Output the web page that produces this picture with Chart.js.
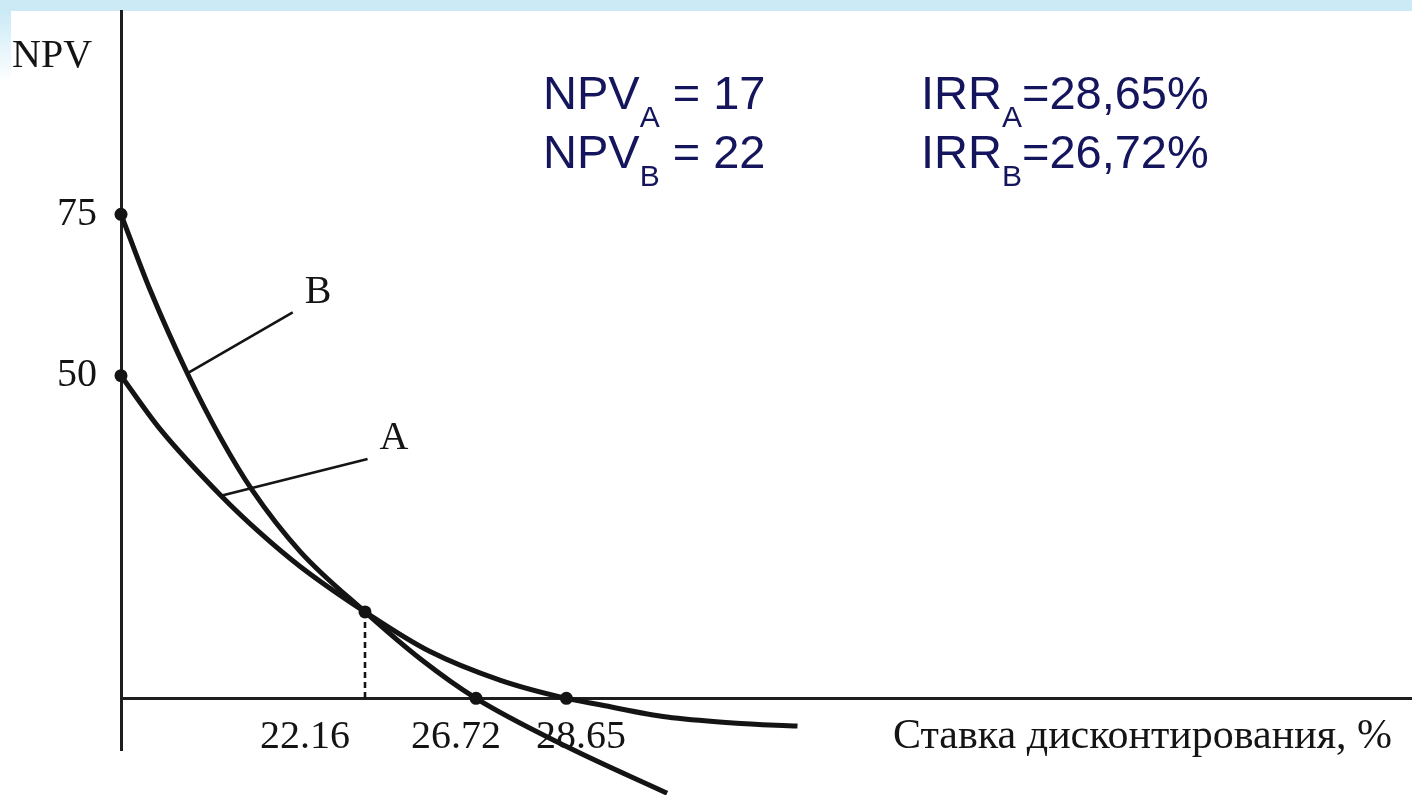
<!DOCTYPE html>
<html>
<head>
<meta charset="utf-8">
<script src="https://cdn.jsdelivr.net/npm/chart.js@4/dist/chart.umd.min.js"></script>
<style>
  html, body { margin: 0; padding: 0; background: #fff; }
  #page { position: relative; width: 1412px; height: 795px; overflow: hidden; }
  #bandTop { position: absolute; left: 0; top: 0; width: 1412px; height: 11px; background: #cbeaf6; }
  #bandLeft { position: absolute; left: 0; top: 11px; width: 11px; height: 72px;
              background: linear-gradient(#cbeaf6, #ffffff); }
  #npvChart { position: absolute; left: 0; top: 0; }
</style>
</head>
<body>
<div id="page">
  <div id="bandTop"></div>
  <div id="bandLeft"></div>
  <canvas id="npvChart" width="1412" height="795"></canvas>
</div>
<script>
    // The original drawing is a sketch, not to scale: the x axis runs 0..100 in
    // "drawing units" and the rate labels are written where the sketch puts them.
    var rateLabels = ['22.16', '26.72', '28.65'];
    var rateLabelAt = [14.25, 25.95, 35.63];
    var npvTicks = [50, 75];

    // project A: NPV 50 at zero rate, IRR 28.65 %
    var aX   = [0, 3.0, 7.75, 10.8, 13.9, 18.9, 23.9, 29.4, 34.5, 37.1, 42.3, 47.4, 52.4];
    var aNpv = [50, 41.8, 31.4, 25.6, 20.4, 13.4, 7.3, 2.8, 0, -1.0, -2.9, -3.8, -4.3];
    // project B: NPV 75 at zero rate, IRR 26.72 %
    var bX   = [0, 2.25, 5.2, 7.7, 10.15, 13.9, 18.9, 23.2, 27.5, 34.55, 42.3];
    var bNpv = [75, 63.3, 50.1, 40.4, 32.3, 22.7, 13.4, 6.1, 0, -7.5, -14.7];

    // marked points: the two starts, the crossing (Fisher point) and the two IRRs
    var markX   = [0, 0, 18.9, 27.5, 34.5];
    var markNpv = [50, 75, 13.4, 0, 0];

    var leaderA = [[7.75, 31.4], [19.1, 37.1]];
    var leaderB = [[5.1, 50.3], [13.3, 59.8]];

    var npvA = 17, npvB = 22;
    var irrA = '28,65%', irrB = '26,72%';
    var xTitle = 'Ставка дисконтирования, %';

    function pts(xs, ys) {
        return xs.map(function (v, i) { return { x: v, y: ys[i] }; });
    }
    function pairs(arr) {
        return arr.map(function (p) { return { x: p[0], y: p[1] }; });
    }

    var ink = '#141414';
    var blue = '#15155e';

    function drawSub(ctx, x, y, main, sub, rest) {
        ctx.font = '47px "Liberation Sans"';
        ctx.fillText(main, x, y);
        x += ctx.measureText(main).width;
        ctx.font = '30px "Liberation Sans"';
        ctx.fillText(sub, x, y + 18);
        x += ctx.measureText(sub).width;
        ctx.font = '47px "Liberation Sans"';
        ctx.fillText(rest, x, y);
    }

    var textPlugin = {
        id: 'sketchText',
        afterDraw: function (chart) {
            var ctx = chart.ctx, xs = chart.scales.x, ys = chart.scales.y;
            ctx.save();
            ctx.fillStyle = ink;
            ctx.textBaseline = 'alphabetic';
            ctx.font = '40px "Liberation Serif"';
            ctx.textAlign = 'left';
            ctx.fillText('NPV', 12, 67);

            var endB = leaderB[1], endA = leaderA[1];
            ctx.fillText('B', xs.getPixelForValue(endB[0]) + 12, ys.getPixelForValue(endB[1]) - 9);
            ctx.fillText('A', xs.getPixelForValue(endA[0]) + 12, ys.getPixelForValue(endA[1]) - 10);

            ctx.font = '42px "Liberation Serif"';
            ctx.textAlign = 'right';
            ctx.fillText(xTitle, 1392, 748);

            ctx.textAlign = 'left';
            ctx.fillStyle = blue;
            drawSub(ctx, 543, 109, 'NPV', 'A', ' = ' + npvA);
            drawSub(ctx, 543, 168, 'NPV', 'B', ' = ' + npvB);
            drawSub(ctx, 921, 109, 'IRR', 'A', '=' + irrA);
            drawSub(ctx, 921, 168, 'IRR', 'B', '=' + irrB);
            ctx.restore();
        }
    };

    function noPad(scale) {
        scale.paddingTop = 0;
        scale.paddingBottom = 0;
        scale.paddingLeft = 0;
        scale.paddingRight = 0;
    }

    window.onload = function () {
        var ctx = document.getElementById('npvChart').getContext('2d');
        Chart.defaults.font.family = '"Liberation Serif", "Times New Roman", serif';
        Chart.defaults.color = ink;

        var curve = {
            borderColor: ink, borderWidth: 5, pointRadius: 0, fill: false,
            cubicInterpolationMode: 'monotone', clip: false, borderCapStyle: 'butt'
        };
        var thin = {
            borderColor: ink, borderWidth: 2.6, pointRadius: 0, fill: false, clip: false, tension: 0
        };

        new Chart(ctx, {
            type: 'line',
            data: {
                datasets: [
                    { label: 'points', data: pts(markX, markNpv), showLine: false,
                      pointRadius: 6.5, pointBackgroundColor: ink, pointBorderWidth: 0, clip: false },
                    Object.assign({ label: 'A', data: pts(aX, aNpv) }, curve),
                    Object.assign({ label: 'B', data: pts(bX, bNpv) }, curve),
                    Object.assign({ label: 'guide', borderDash: [6, 4],
                      data: [{ x: markX[2], y: markNpv[2] }, { x: markX[2], y: 0 }] }, thin),
                    Object.assign({ label: 'leaderA', data: pairs(leaderA) }, thin),
                    Object.assign({ label: 'leaderB', data: pairs(leaderB) }, thin)
                ]
            },
            options: {
                responsive: false,
                animation: false,
                events: [],
                layout: { autoPadding: false, padding: { left: 0, top: 11, right: 0, bottom: 45 } },
                plugins: { legend: { display: false }, tooltip: { enabled: false } },
                scales: {
                    x: {
                        type: 'linear',
                        position: { y: 0 },
                        min: 0, max: 100,
                        grid: { display: false, drawTicks: false },
                        border: { display: true, color: '#1e1e1e', width: 3 },
                        afterFit: function (scale) { scale.height = 0; noPad(scale); },
                        afterBuildTicks: function (scale) {
                            scale.ticks = rateLabelAt.map(function (v) { return { value: v }; });
                        },
                        ticks: {
                            autoSkip: false, maxRotation: 0, padding: 15,
                            font: { size: 40 },
                            callback: function (value, index) { return rateLabels[index]; }
                        }
                    },
                    y: {
                        type: 'linear',
                        min: -8, max: 106.5,
                        grid: { display: false, drawTicks: false },
                        border: { display: true, color: '#1e1e1e', width: 3 },
                        afterFit: function (scale) { scale.width = 121; noPad(scale); },
                        afterBuildTicks: function (scale) {
                            scale.ticks = npvTicks.map(function (v) { return { value: v }; });
                        },
                        ticks: { padding: 24, font: { size: 40 } }
                    }
                }
            },
            plugins: [textPlugin]
        });
    };
</script>
</body>
</html>
